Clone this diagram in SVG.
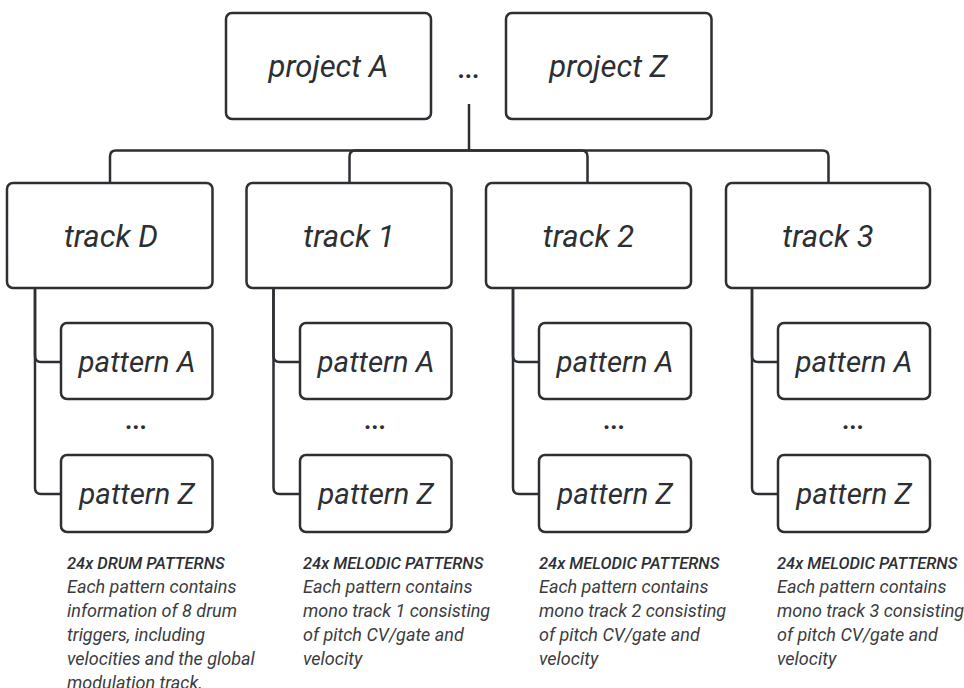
<svg xmlns="http://www.w3.org/2000/svg" width="964" height="688" viewBox="0 0 964 688">
<style>
.box{fill:#fff;stroke:#2c2f33;stroke-width:2.5}
.con{fill:none;stroke:#2c2f33;stroke-width:2.5}
.lbl{font-family:Roboto,"Liberation Sans",sans-serif;font-style:italic;fill:#2c2f33;text-anchor:middle}
.big{font-size:31px}
.mid{font-size:29.5px}
.dots{font-family:Roboto,"Liberation Sans",sans-serif;font-weight:bold;fill:#2c2f33;text-anchor:middle;font-size:25px}
.desc{font-family:Roboto,"Liberation Sans",sans-serif;font-style:italic;fill:#3a3c40;font-size:18px}
.head{font-weight:500;fill:#2c2f33;font-size:16.5px}
</style>
<rect width="964" height="688" fill="#fff"/>
<g id="connectors">
<path class="con" d="M469,104 V150.5 H116 Q110,150.5 110,156.5 V183"/>
<path class="con" d="M469,150.5 H355.5 Q349.5,150.5 349.5,156.5 V183"/>
<path class="con" d="M469,150.5 H581.5 Q587.5,150.5 587.5,156.5 V183"/>
<path class="con" d="M469,150.5 H822.5 Q828.5,150.5 828.5,156.5 V183"/>
<path class="con" d="M35,288 V356 Q35,362 41,362 H61"/>
<path class="con" d="M35,288 V488 Q35,494 41,494 H61"/>
<path class="con" d="M273.5,288 V356 Q273.5,362 279.5,362 H300"/>
<path class="con" d="M273.5,288 V488 Q273.5,494 279.5,494 H300"/>
<path class="con" d="M513,288 V356 Q513,362 519,362 H539"/>
<path class="con" d="M513,288 V488 Q513,494 519,494 H539"/>
<path class="con" d="M752,288 V356 Q752,362 758,362 H778"/>
<path class="con" d="M752,288 V488 Q752,494 758,494 H778"/>
</g>
<g id="projectA"><rect class="box" x="226" y="13" width="205" height="106" rx="6"/><text class="lbl big" x="328.5" y="77">project A</text></g>
<g id="projectDots"><text class="dots" x="468.5" y="78">...</text></g>
<g id="projectZ"><rect class="box" x="506" y="13" width="205.5" height="106" rx="6"/><text class="lbl big" x="608.5" y="77">project Z</text></g>

<g id="trackD"><rect class="box" x="7" y="183" width="205.5" height="105" rx="6"/><text class="lbl big" x="111" y="247">track D</text></g>
<g id="track1"><rect class="box" x="246.5" y="183" width="205" height="105" rx="6"/><text class="lbl big" x="349" y="247">track 1</text></g>
<g id="track2"><rect class="box" x="486" y="183" width="205" height="105" rx="6"/><text class="lbl big" x="588.5" y="247">track 2</text></g>
<g id="track3"><rect class="box" x="726" y="183" width="204" height="105" rx="6"/><text class="lbl big" x="828" y="247">track 3</text></g>

<g id="trackD-patternA"><rect class="box" x="61" y="323" width="151.5" height="76" rx="6"/><text class="lbl mid" x="137" y="372">pattern A</text></g>
<g id="trackD-dots"><text class="dots" x="136" y="429">...</text></g>
<g id="trackD-patternZ"><rect class="box" x="61" y="455" width="151.5" height="77" rx="6"/><text class="lbl mid" x="137" y="504">pattern Z</text></g>

<g id="track1-patternA"><rect class="box" x="300" y="323" width="151.5" height="76" rx="6"/><text class="lbl mid" x="376" y="372">pattern A</text></g>
<g id="track1-dots"><text class="dots" x="375" y="429">...</text></g>
<g id="track1-patternZ"><rect class="box" x="300" y="455" width="151.5" height="77" rx="6"/><text class="lbl mid" x="376" y="504">pattern Z</text></g>

<g id="track2-patternA"><rect class="box" x="539" y="323" width="152" height="76" rx="6"/><text class="lbl mid" x="615" y="372">pattern A</text></g>
<g id="track2-dots"><text class="dots" x="614" y="429">...</text></g>
<g id="track2-patternZ"><rect class="box" x="539" y="455" width="152" height="77" rx="6"/><text class="lbl mid" x="615" y="504">pattern Z</text></g>

<g id="track3-patternA"><rect class="box" x="778" y="323" width="152" height="76" rx="6"/><text class="lbl mid" x="854" y="372">pattern A</text></g>
<g id="track3-dots"><text class="dots" x="853" y="429">...</text></g>
<g id="track3-patternZ"><rect class="box" x="778" y="455" width="152" height="77" rx="6"/><text class="lbl mid" x="854" y="504">pattern Z</text></g>

<g id="descD"><text class="desc" x="67" y="569"><tspan class="head">24x DRUM PATTERNS</tspan><tspan x="67" dy="24">Each pattern contains</tspan><tspan x="67" dy="24">information of 8 drum</tspan><tspan x="67" dy="24">triggers, including</tspan><tspan x="67" dy="24">velocities and the global</tspan><tspan x="67" dy="24">modulation track.</tspan></text></g>
<g id="desc1"><text class="desc" x="303" y="569"><tspan class="head">24x MELODIC PATTERNS</tspan><tspan x="303" dy="24">Each pattern contains</tspan><tspan x="303" dy="24">mono track 1 consisting</tspan><tspan x="303" dy="24">of pitch CV/gate and</tspan><tspan x="303" dy="24">velocity</tspan></text></g>
<g id="desc2"><text class="desc" x="539" y="569"><tspan class="head">24x MELODIC PATTERNS</tspan><tspan x="539" dy="24">Each pattern contains</tspan><tspan x="539" dy="24">mono track 2 consisting</tspan><tspan x="539" dy="24">of pitch CV/gate and</tspan><tspan x="539" dy="24">velocity</tspan></text></g>
<g id="desc3"><text class="desc" x="777" y="569"><tspan class="head">24x MELODIC PATTERNS</tspan><tspan x="777" dy="24">Each pattern contains</tspan><tspan x="777" dy="24">mono track 3 consisting</tspan><tspan x="777" dy="24">of pitch CV/gate and</tspan><tspan x="777" dy="24">velocity</tspan></text></g>
</svg>
